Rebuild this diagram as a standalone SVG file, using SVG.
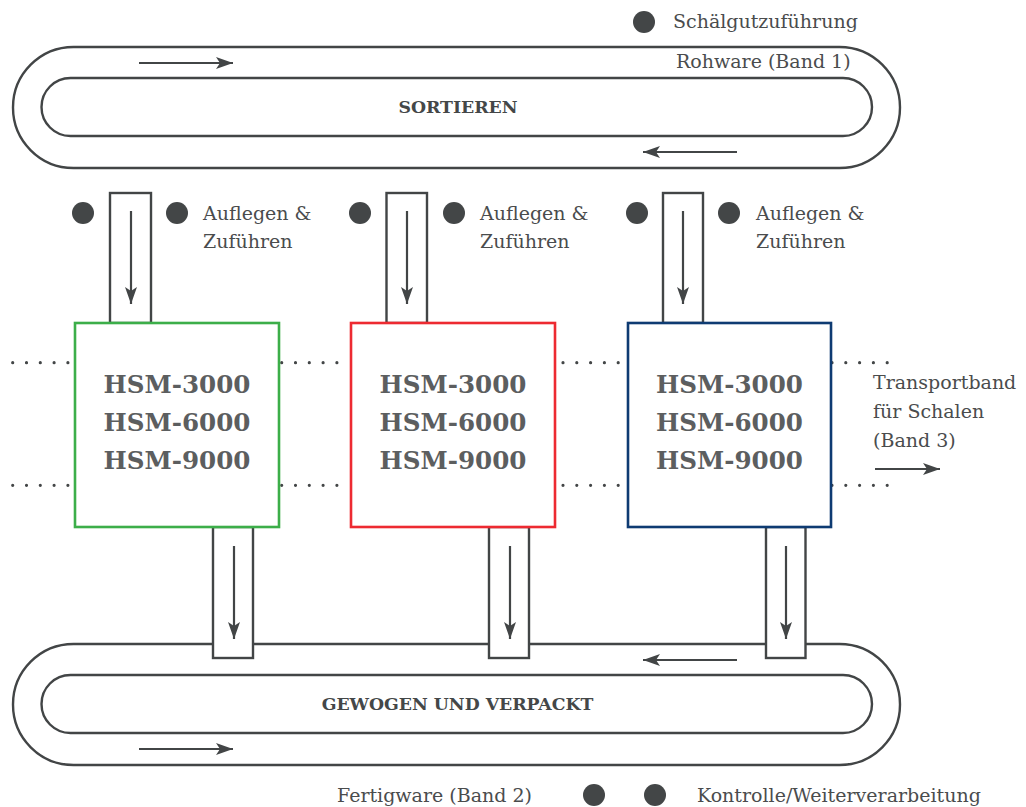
<svg xmlns="http://www.w3.org/2000/svg" width="1026" height="807" viewBox="0 0 1026 807">
<style>
.belt{fill:none;stroke:#424546;stroke-width:2.4}
.chute{fill:#fff;stroke:#424546;stroke-width:2.4}
.arr{fill:none;stroke:#424546;stroke-width:2.2}
.dot{fill:#434647}
.dotline{fill:none;stroke:#434647;stroke-width:3.2;stroke-linecap:round;stroke-dasharray:0 13.8}
.t{font-family:"DejaVu Serif","Liberation Serif",serif;font-size:19px;fill:#4a4c4d}
.b{font-family:"DejaVu Serif","Liberation Serif",serif;font-size:17.3px;font-weight:bold;fill:#444748}
.hsm{font-family:"DejaVu Serif","Liberation Serif",serif;font-size:24.6px;font-weight:bold;fill:#5c5e5f;text-anchor:middle}
</style>
<defs>
<marker id="ah" markerUnits="userSpaceOnUse" markerWidth="18" markerHeight="13" viewBox="0 0 18 13" refX="17" refY="6.5" orient="auto">
<path d="M0,0.5 L17,6.5 L0,12.5 L4,6.5 z" fill="#424546"/>
</marker>
</defs>
<rect width="1026" height="807" fill="#fff"/>

<g id="band1">
<rect class="belt" x="13" y="47" width="887" height="121" rx="60.5" ry="60.5"/>
<rect class="belt" x="41.5" y="78" width="830.5" height="58" rx="29" ry="29"/>
<text class="b" x="458" y="113" text-anchor="middle">SORTIEREN</text>
<text class="t" x="676" y="68">Rohware (Band 1)</text>
<circle class="dot" cx="644" cy="22" r="11"/>
<text class="t" x="673" y="28">Schälgutzuführung</text>
</g>

<g id="band2">
<rect class="belt" x="13" y="644" width="887" height="121" rx="60.5" ry="60.5"/>
<rect class="belt" x="41.5" y="675" width="830.5" height="58" rx="29" ry="29"/>
<text class="b" x="457.5" y="710" text-anchor="middle">GEWOGEN UND VERPACKT</text>
<text class="t" x="337" y="802">Fertigware (Band 2)</text>
<circle class="dot" cx="594" cy="795" r="11"/>
<circle class="dot" cx="655" cy="795" r="11"/>
<text class="t" x="697" y="802">Kontrolle/Weiterverarbeitung</text>
</g>

<g id="feed1">
<rect class="chute" x="110" y="193" width="41" height="130"/>
<circle class="dot" cx="83" cy="213" r="11"/>
<circle class="dot" cx="177" cy="213" r="11"/>
<text class="t" x="203" y="220">Auflegen &amp;</text>
<text class="t" x="203" y="248">Zuführen</text>
</g>
<g id="feed2">
<rect class="chute" x="386.5" y="193" width="40.5" height="130"/>
<circle class="dot" cx="360" cy="213" r="11"/>
<circle class="dot" cx="454" cy="213" r="11"/>
<text class="t" x="480" y="220">Auflegen &amp;</text>
<text class="t" x="480" y="248">Zuführen</text>
</g>
<g id="feed3">
<rect class="chute" x="663" y="193" width="40" height="130"/>
<circle class="dot" cx="637" cy="213" r="11"/>
<circle class="dot" cx="729" cy="213" r="11"/>
<text class="t" x="756" y="220">Auflegen &amp;</text>
<text class="t" x="756" y="248">Zuführen</text>
</g>

<g id="out1"><rect class="chute" x="213" y="527" width="40" height="131"/></g>
<g id="out2"><rect class="chute" x="489" y="527" width="40" height="131"/></g>
<g id="out3"><rect class="chute" x="766" y="527" width="39.5" height="131"/></g>

<g id="dotted">
<path class="dotline" d="M12.7,362.7 H70 M281.7,362.7 H350 M563,362.7 H626 M832,362.7 H898"/>
<path class="dotline" d="M12.7,485.3 H70 M281.7,485.3 H350 M563,485.3 H626 M832,485.3 H898"/>
</g>

<g id="hsm1">
<rect x="75" y="323" width="204" height="204" fill="#fff" stroke="#3cae49" stroke-width="2.6"/>
<text class="hsm" x="177" y="393">HSM-3000</text>
<text class="hsm" x="177" y="431">HSM-6000</text>
<text class="hsm" x="177" y="469">HSM-9000</text>
</g>
<g id="hsm2">
<rect x="351" y="323" width="204" height="204" fill="#fff" stroke="#ed2a31" stroke-width="2.6"/>
<text class="hsm" x="453" y="393">HSM-3000</text>
<text class="hsm" x="453" y="431">HSM-6000</text>
<text class="hsm" x="453" y="469">HSM-9000</text>
</g>
<g id="hsm3">
<rect x="628" y="323" width="203" height="204" fill="#fff" stroke="#0e3b72" stroke-width="2.6"/>
<text class="hsm" x="729.5" y="393">HSM-3000</text>
<text class="hsm" x="729.5" y="431">HSM-6000</text>
<text class="hsm" x="729.5" y="469">HSM-9000</text>
</g>

<g id="band3">
<text class="t" x="873" y="389">Transportband</text>
<text class="t" x="873" y="418">für Schalen</text>
<text class="t" x="873" y="447">(Band 3)</text>
</g>

<g id="connectors">
<path class="arr" marker-end="url(#ah)" d="M139,63 H233"/>
<path class="arr" marker-end="url(#ah)" d="M737,152 H643"/>
<path class="arr" marker-end="url(#ah)" d="M737,660 H643"/>
<path class="arr" marker-end="url(#ah)" d="M139,749 H233"/>
<path class="arr" marker-end="url(#ah)" d="M131,211 V304"/>
<path class="arr" marker-end="url(#ah)" d="M407,211 V304"/>
<path class="arr" marker-end="url(#ah)" d="M683,211 V304"/>
<path class="arr" marker-end="url(#ah)" d="M234,546 V639"/>
<path class="arr" marker-end="url(#ah)" d="M510,546 V639"/>
<path class="arr" marker-end="url(#ah)" d="M786,546 V639"/>
<path class="arr" marker-end="url(#ah)" d="M875,469 H940"/>
</g>
</svg>
